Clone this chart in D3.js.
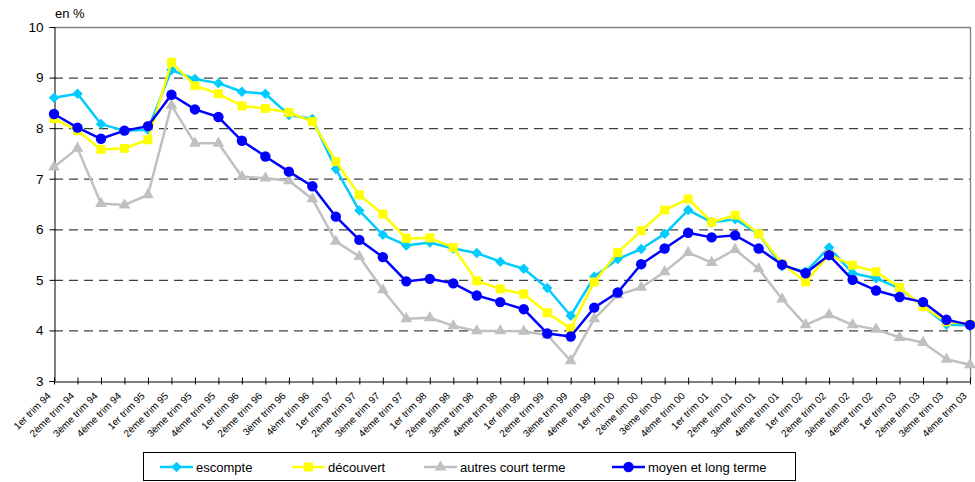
<!DOCTYPE html>
<html><head><meta charset="utf-8">
<script src="https://cdn.jsdelivr.net/npm/d3@7"></script>
<style>body{margin:0;background:#fff;}svg{display:block;font-family:"Liberation Sans",Arial,sans-serif;}</style>
</head><body><svg id="c" width="975" height="482"></svg>
<script>
const categories = ["1er trim 94","2ème trim 94","3ème trim 94","4ème trim 94","1er trim 95","2ème trim 95","3ème trim 95","4ème trim 95","1er trim 96","2ème trim 96","3èmr trim 96","4èmr trim 96","1er trim 97","2ème trim 97","3ème trim 97","4ème trim 97","1er trim 98","2ème trim 98","3ème trim 98","4ème trim 98","1er trim 99","2ème trim 99","3ème trim 99","4ème trim 99","1er trim 00","2ème tim 00","3ème tim 00","4ème trim 00","1er trim 01","2ème trim 01","3ème trim 01","4ème trim 01","1er trim 02","2ème trim 02","3ème trim 02","4ème trim 02","1er trim 03","2ème trim 03","3ème trim 03","4ème trim 03"];
const escompte = [8.60,8.68,8.08,7.95,7.97,9.15,8.97,8.89,8.72,8.68,8.26,8.18,7.19,6.37,5.89,5.68,5.74,5.62,5.53,5.36,5.22,4.84,4.29,5.06,5.41,5.61,5.91,6.38,6.14,6.20,5.91,5.27,5.16,5.64,5.13,5.03,4.83,4.48,4.11,4.10];
const decouvert = [8.19,7.95,7.58,7.60,7.77,9.30,8.84,8.68,8.44,8.39,8.31,8.13,7.34,6.68,6.30,5.82,5.83,5.64,4.98,4.82,4.72,4.35,4.04,4.96,5.54,5.97,6.38,6.60,6.14,6.28,5.91,5.32,4.96,5.50,5.29,5.16,4.85,4.47,4.17,4.12];
const autres = [7.23,7.60,6.51,6.48,6.68,8.45,7.70,7.70,7.04,7.01,6.96,6.60,5.76,5.46,4.80,4.23,4.25,4.09,3.99,3.99,3.98,3.91,3.40,4.23,4.70,4.85,5.16,5.54,5.34,5.60,5.22,4.62,4.11,4.31,4.11,4.02,3.86,3.76,3.43,3.32];
const moyen = [8.28,8.01,7.79,7.95,8.04,8.66,8.37,8.22,7.75,7.44,7.14,6.85,6.25,5.79,5.45,4.97,5.02,4.93,4.69,4.56,4.42,3.94,3.88,4.45,4.75,5.31,5.62,5.93,5.84,5.88,5.62,5.30,5.13,5.49,5.00,4.79,4.66,4.56,4.21,4.11];
const yTicks = [3,4,5,6,7,8,9,10];
const seriesNames = ["escompte","découvert","autres court terme","moyen et long terme"];

const series = [
  {name: seriesNames[0], values: escompte, color: "#00CCFF", marker: d3.symbolDiamond2, msize: 70},
  {name: seriesNames[1], values: decouvert, color: "#FFFF00", marker: d3.symbolSquare, msize: 80},
  {name: seriesNames[2], values: autres, color: "#C0C0C0", marker: d3.symbolTriangle, msize: 60},
  {name: seriesNames[3], values: moyen, color: "#0000FF", marker: d3.symbolCircle, msize: 85}
];

const svg = d3.select("#c");
const L = 54, R = 970, T = 27, B = 381;
const x = d3.scalePoint().domain(categories).range([L, R]);
const y = d3.scaleLinear().domain([3, 10]).range([B, T]);

// gridlines
svg.append("g").selectAll("line").data(yTicks.filter(v => v > 3 && v < 10)).join("line")
  .attr("x1", L).attr("x2", R).attr("y1", d => y(d) + 0.5).attr("y2", d => y(d) + 0.5)
  .attr("stroke", "#404040").attr("stroke-width", 1.2).attr("stroke-dasharray", "9,6");
// top and right border
svg.append("line").attr("x1", L).attr("x2", R).attr("y1", y(10) + 0.5).attr("y2", y(10) + 0.5).attr("stroke", "#808080").attr("stroke-width", 1.3);
svg.append("line").attr("x1", R + 0.5).attr("x2", R + 0.5).attr("y1", T).attr("y2", B).attr("stroke", "#808080").attr("stroke-width", 1.3);

// y axis
const yAxis = d3.axisLeft(y).tickValues(yTicks).tickSize(5).tickPadding(6).tickFormat(d3.format("d"));
const gy = svg.append("g").attr("transform", `translate(${L + 0.5},0)`).call(yAxis);
gy.selectAll("text").attr("font-size", 13.5).attr("fill", "#000");
gy.select(".domain").attr("stroke", "#000");
gy.selectAll(".tick line").attr("stroke", "#000");

// x axis
const xAxis = d3.axisBottom(x).tickSize(4).tickSizeOuter(0);
const gx = svg.append("g").attr("transform", `translate(0,${B + 0.5})`).call(xAxis);
gx.select(".domain").attr("stroke", "#000");
gx.selectAll(".tick line").attr("stroke", "#000").attr("y1", -4).attr("y2", 3);
gx.selectAll(".tick text").attr("font-size", 10).attr("fill", "#000")
  .attr("text-anchor", "end").attr("dy", 0).attr("y", 0)
  .attr("transform", "translate(-3,15) rotate(-45)");

svg.append("text").attr("x", 55).attr("y", 18).attr("font-size", 13).text("en %");

// series
const line = d3.line().x((d, i) => x(categories[i])).y(d => y(d));
series.forEach(s => {
  const g = svg.append("g");
  g.append("path").datum(s.values).attr("d", line).attr("fill", "none")
    .attr("stroke", s.color).attr("stroke-width", 2.5).attr("stroke-linejoin", "round");
  g.selectAll("path.m").data(s.values).join("path").attr("class", "m")
    .attr("d", d3.symbol().type(s.marker).size(s.msize))
    .attr("transform", (d, i) => `translate(${x(categories[i])},${y(d)})`)
    .attr("fill", s.color);
});

// legend
const lg = svg.append("g");
lg.append("rect").attr("x", 143.5).attr("y", 452.5).attr("width", 652).attr("height", 28)
  .attr("fill", "#fff").attr("stroke", "#000").attr("stroke-width", 1);
const lx = [160, 292, 424, 612];
series.forEach((s, i) => {
  const gi = lg.append("g").attr("transform", `translate(${lx[i]},467)`);
  gi.append("line").attr("x1", 0).attr("x2", 33).attr("stroke", s.color).attr("stroke-width", 2.5);
  gi.append("path").attr("d", d3.symbol().type(s.marker).size(s.msize)).attr("transform", "translate(16.5,0)").attr("fill", s.color);
  gi.append("text").attr("x", 36).attr("y", 4.5).attr("font-size", 13).text(s.name);
});
</script></body></html>
